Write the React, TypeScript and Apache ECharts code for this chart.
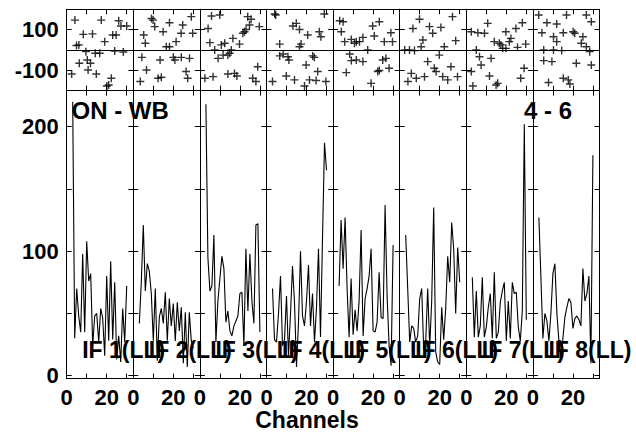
import React, { useEffect, useRef } from "react";
import * as echarts from "echarts";

// Channel numbers of the amplitude spectra
const CHANNELS = [3, 4, 5, 6, 7, 8, 9, 10, 11, 12, 13, 14, 15, 16, 17, 18, 19, 20, 21, 22, 23, 24, 25, 26, 27, 28, 29, 30];

// Amplitudes per IF (channels 3..30)
const AMP_IF1 = [220, 30, 70, 48, 35, 98, 35, 108, 76, 82, 24, 48, 50, 27, 54, 46, 16, 80, 28, 92, 29, 75, 13, 32, 11, 54, 27, 72];
const AMP_IF2 = [42, 75, 121, 68, 90, 84, 66, 28, 70, 12, 47, 54, 42, 67, 28, 62, 40, 58, 28, 59, 36, 55, 10, 51, 7, 51, 28, 22];
const AMP_IF3 = [218, 95, 68, 72, 113, 27, 60, 78, 96, 86, 43, 52, 36, 32, 40, 44, 48, 66, 67, 24, 102, 52, 98, 60, 42, 121, 122, 35];
const AMP_IF4 = [70, 29, 27, 50, 80, 24, 29, 64, 16, 50, 88, 59, 7, 43, 100, 48, 40, 60, 89, 40, 66, 27, 55, 102, 31, 110, 187, 165];
const AMP_IF5 = [72, 125, 86, 127, 70, 31, 78, 33, 53, 36, 60, 117, 32, 62, 70, 80, 102, 36, 35, 43, 83, 47, 46, 137, 64, 24, 8, 105];
const AMP_IF6 = [113, 70, 27, 40, 38, 27, 32, 62, 70, 21, 27, 70, 23, 60, 135, 19, 11, 9, 55, 29, 54, 96, 75, 123, 102, 50, 103, 75];
const AMP_IF7 = [79, 31, 68, 31, 40, 79, 31, 39, 55, 66, 30, 83, 30, 35, 59, 68, 75, 28, 60, 30, 75, 66, 67, 39, 28, 52, 202, 45];
const AMP_IF8 = [127, 79, 30, 50, 44, 28, 50, 82, 90, 50, 28, 15, 30, 47, 55, 62, 59, 38, 46, 48, 45, 40, 86, 60, 66, 80, 10, 177];

// Phases per IF: [channel, phase in degrees]
const PHASE_IF1 = [[4.1, 147], [4.9, 22], [6.1, 25], [8.3, 77], [12.9, 79], [17.3, 147], [19, 41], [23, 74], [24.7, 74], [26, 144], [27.1, 118], [30, 118], [28.3, -10], [24, -5], [16.5, -16], [14.3, -16], [9.6, -8], [10.3, -49], [6.3, -65], [11.9, -65], [10.7, -98], [2.5, -118], [14.8, -118], [22.3, -139], [20.1, -177], [21, -172]];
const PHASE_IF2 = [[9.1, 155], [9.9, 147], [10.7, 115], [18.1, 134], [29, 164], [5.2, 74], [6, 33], [14.9, 90], [23.9, 82], [24.7, 123], [29.7, 82], [21.4, 41], [16.5, 16], [18.1, 16], [4.3, -36], [13.4, -49], [20, -36], [20.8, -49], [24, -36], [28.1, -41], [6.6, -98], [12.4, -139], [14, -134], [3.5, -155], [26.4, -106], [27.2, -139]];
const PHASE_IF3 = [[5.8, 167], [9.9, 172], [4.1, 106], [23.9, 164], [25.6, 151], [24.8, 123], [29.7, 115], [23.1, 101], [21.5, 82], [22.3, 90], [16.5, 57], [19.8, 29], [5, 36], [12.4, 33], [10.7, 25], [15.7, 0], [7.4, 0], [9.1, -41], [11.6, -25], [14.9, -16], [14, -25], [28.9, -82], [2.5, -139], [6.6, -131], [14, -118], [17.3, -115], [18.5, -128], [26.4, -139], [28, -155]];
const PHASE_IF4 = [[4.1, 177], [4.6, 172], [28.9, 177], [13.2, 118], [14.9, 131], [16.5, 101], [20.6, 74], [26.4, 90], [27.2, 65], [6.6, 29], [16.5, 16], [17.3, 29], [6.6, -29], [8.3, -20], [10.7, -33], [11.2, -49], [23.1, -29], [23.9, -36], [19.8, -74], [25.6, -106], [3, -155], [9.9, -128], [14, -147], [19, -177], [21.5, -147], [24.8, -150], [29.7, -155]];
const PHASE_IF5 = [[3.3, 144], [5, 139], [4.1, 90], [19.8, 118], [23.1, 139], [28.9, 85], [5.8, 41], [9.1, 52], [11.6, 41], [13.2, 41], [14.9, 62], [20.6, 69], [25.6, 41], [29.7, 41], [10.7, 33], [17.3, 0], [8.3, -20], [9.1, -52], [11.6, -49], [14.9, -57], [24.8, -49], [26.4, -41], [28, -90], [6.6, -111], [23.1, -101], [22.3, -106], [19, -164]];
const PHASE_IF6 = [[2.5, 0], [4.9, 0], [7.4, -3], [6.6, 106], [9.9, 151], [14.9, 115], [16.5, 82], [20.6, 111], [26.4, 164], [28, 46], [11.6, 49], [10.7, 16], [22.3, 16], [19.8, -25], [14, -57], [17.3, -90], [18.2, -106], [25.6, -82], [21.5, -131], [24, -147], [28.9, -131], [5.8, -115], [4.1, -155], [8.3, -139], [12.4, -131]];
const PHASE_IF7 = [[2.5, 90], [5.8, 85], [9.1, 82], [10.7, 131], [14, 41], [16.5, 33], [17.3, 25], [19.8, 90], [21.5, 41], [22.3, 57], [24.8, 106], [28, 134], [25.6, 13], [29.7, 29], [19.8, 8], [18.2, 8], [5, 0], [6.6, -33], [12.4, -41], [7.4, -74], [2.5, -106], [11.6, -128], [15.7, -164], [14.9, -172], [27.2, -139], [28.9, -90], [3.3, -177]];
const PHASE_IF8 = [[2.9, 172], [7, 134], [11.9, 128], [16.8, 172], [26.7, 172], [29.2, 139], [4.5, 85], [10.3, 65], [15.2, 85], [20.1, 90], [20.9, 82], [25, 65], [11.9, 41], [24.2, 33], [26.7, 16], [5.4, 0], [10.3, 0], [14.4, -3], [28.4, -8], [5.4, -52], [9.5, -57], [21.7, -65], [29.2, -74], [7.8, -160], [15.2, -139], [17.7, -147], [18.5, -167]];

const IF_LABELS = ["IF 1(LL)", "IF 2(LL)", "IF 3(LL)", "IF 4(LL)", "IF 5(LL)", "IF 6(LL)", "IF 7(LL)", "IF 8(LL)"];
const X_TICKS = [0, 10, 20, 30];
const X_LABELS = [0, 20];
const AMP_TICKS = [0, 50, 100, 150, 200];
const AMP_LABELS = [0, 100, 200];
const PHASE_TICKS = [-100, 100];
const PHASE_LABELS = [-100, 100];
const TITLE_LEFT = "ON - WB";
const TITLE_RIGHT = "4 - 6";
const X_NAME = "Channels";

const AMPS = [AMP_IF1, AMP_IF2, AMP_IF3, AMP_IF4, AMP_IF5, AMP_IF6, AMP_IF7, AMP_IF8];
const PHASES = [PHASE_IF1, PHASE_IF2, PHASE_IF3, PHASE_IF4, PHASE_IF5, PHASE_IF6, PHASE_IF7, PHASE_IF8];

const FONT = "'Liberation Sans', Arial, Helvetica, sans-serif";

export default function App() {
  const ref = useRef<HTMLDivElement>(null);
  useEffect(() => {
    const chart = echarts.init(ref.current!, null, { renderer: "svg" });
    const P_LEFT = 66.7;
    const P_W = 66.6;
    const TOP_T = 9.3;
    const TOP_H = 81.4;
    const BOT_T = 90.7;
    const BOT_H = 288;
    const line = { color: "#000", width: 1 };

    const grids: any[] = [];
    const xAxes: any[] = [];
    const yAxes: any[] = [];
    const series: any[] = [];
    const graphics: any[] = [];

    for (let i = 0; i < 8; i++) {
      const left = P_LEFT + i * P_W;
      for (let k = 0; k < 2; k++) {
        const isTop = k === 0;
        const g = grids.length;
        grids.push({ left, width: P_W, top: isTop ? TOP_T : BOT_T, height: isTop ? TOP_H : BOT_H, containLabel: false });
        const xBase = {
          gridIndex: g,
          type: "value",
          min: 0,
          max: 33.3,
          axisLine: { show: true, onZero: false, lineStyle: line },
          axisTick: { show: true, inside: true, length: 5, customValues: X_TICKS, lineStyle: line },
          splitLine: { show: false },
        };
        xAxes.push({
          ...xBase,
          position: "bottom",
          axisLabel: !isTop
            ? { show: true, customValues: X_LABELS, color: "#000", fontSize: 22, fontWeight: "bold", fontFamily: FONT, margin: 8 }
            : { show: false },
        });
        xAxes.push({ ...xBase, position: "top", axisLabel: { show: false } });
        const yBase = {
          gridIndex: g,
          type: "value",
          min: isTop ? -200 : -2.4,
          max: isTop ? 200 : 228.9,
          axisLine: { show: true, onZero: false, lineStyle: line },
          axisTick: { show: true, inside: true, length: 5, customValues: isTop ? PHASE_TICKS : AMP_TICKS, lineStyle: line },
          splitLine: { show: false },
        };
        yAxes.push({
          ...yBase,
          position: "left",
          axisLabel:
            i === 0
              ? { show: true, customValues: isTop ? PHASE_LABELS : AMP_LABELS, color: "#000", fontSize: 22, fontWeight: "bold", fontFamily: FONT, margin: 8 }
              : { show: false },
        });
        yAxes.push({ ...yBase, position: "right", axisLabel: { show: false } });

        if (isTop) {
          series.push({
            type: "scatter",
            xAxisIndex: 2 * g,
            yAxisIndex: 2 * g,
            symbol: "path://M0,4L8,4M4,0L4,8",
            symbolSize: 8,
            itemStyle: { color: "transparent", borderColor: "#000", borderWidth: 1.4 },
            data: PHASES[i],
            markLine: {
              silent: true,
              symbol: "none",
              label: { show: false },
              lineStyle: { color: "#000", type: "solid", width: 1 },
              data: [{ yAxis: 0 }],
            },
          });
        } else {
          series.push({
            type: "line",
            xAxisIndex: 2 * g,
            yAxisIndex: 2 * g,
            showSymbol: false,
            symbol: "none",
            lineStyle: { color: "#000", width: 1.1 },
            data: CHANNELS.map((c, j) => [c, AMPS[i][j]]),
          });
        }
      }
      graphics.push({
        type: "text",
        x: left + 15.5,
        y: 350,
        style: { text: IF_LABELS[i], fill: "#000", font: `bold 23px ${FONT}`, textAlign: "left", textVerticalAlign: "middle" },
        z: 100,
      });
    }

    graphics.push({
      type: "text",
      x: 71.5,
      y: 110,
      style: { text: TITLE_LEFT, fill: "#000", font: `bold 24px ${FONT}`, textAlign: "left", textVerticalAlign: "middle" },
      z: 100,
    });
    graphics.push({
      type: "text",
      x: 524,
      y: 110.5,
      style: { text: TITLE_RIGHT, fill: "#000", font: `bold 24px ${FONT}`, textAlign: "left", textVerticalAlign: "middle" },
      z: 100,
    });
    graphics.push({
      type: "text",
      x: 307,
      y: 420,
      style: { text: X_NAME, fill: "#000", font: `bold 23px ${FONT}`, textAlign: "center", textVerticalAlign: "middle" },
      z: 100,
    });

    chart.setOption({
      animation: false,
      backgroundColor: "#fff",
      grid: grids,
      xAxis: xAxes,
      yAxis: yAxes,
      series,
      graphic: graphics,
    });
    return () => chart.dispose();
  }, []);
  return <div ref={ref} style={{ position: "fixed", left: 0, top: 0, width: 636, height: 432, background: "#fff" }} />;
}
